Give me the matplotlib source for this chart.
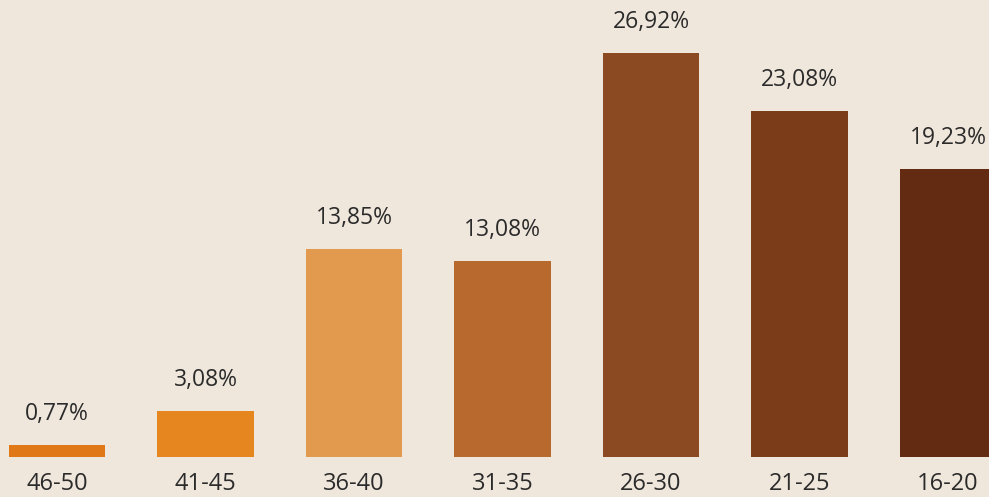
import matplotlib
matplotlib.use("Agg")
import matplotlib.pyplot as plt

categories = ["46-50", "41-45", "36-40", "31-35", "26-30", "21-25", "16-20"]
values = [0.77, 3.08, 13.85, 13.08, 26.92, 23.08, 19.23]
value_labels = ["0,77%", "3,08%", "13,85%", "13,08%", "26,92%", "23,08%", "19,23%"]
colors = ["#e07818", "#e6861e", "#e29a4e", "#b8692e", "#8b4a22", "#7b3c19", "#632b12"]

BG = "#f0e7dc"
TEXT = "#2b2b2b"

fig = plt.figure(figsize=(9.89, 4.97), dpi=100)
fig.patch.set_facecolor(BG)
ax = fig.add_axes([0, 0, 1, 1])
ax.set_facecolor(BG)

x = list(range(len(categories)))
ax.bar(x, values, width=0.65, color=colors, edgecolor="none")

# value labels above each bar
for xi, v, lab in zip(x, values, value_labels):
    ax.annotate(lab, (xi, v), textcoords="offset pixels", xytext=(0, 31),
                ha="center", va="center", fontsize=16.5, color=TEXT,
                family="Open Sans")

# age group labels under the bars
for xi, cat in zip(x, categories):
    ax.annotate(cat, (xi, 0), textcoords="offset pixels", xytext=(0, -27),
                ha="center", va="center", fontsize=17, color=TEXT,
                family="Open Sans")

ax.set_xlim(-0.384, 6.276)
ax.set_ylim(-2.67, 30.47)
ax.axis("off")

fig.savefig("out.png", dpi=100, facecolor=BG)
